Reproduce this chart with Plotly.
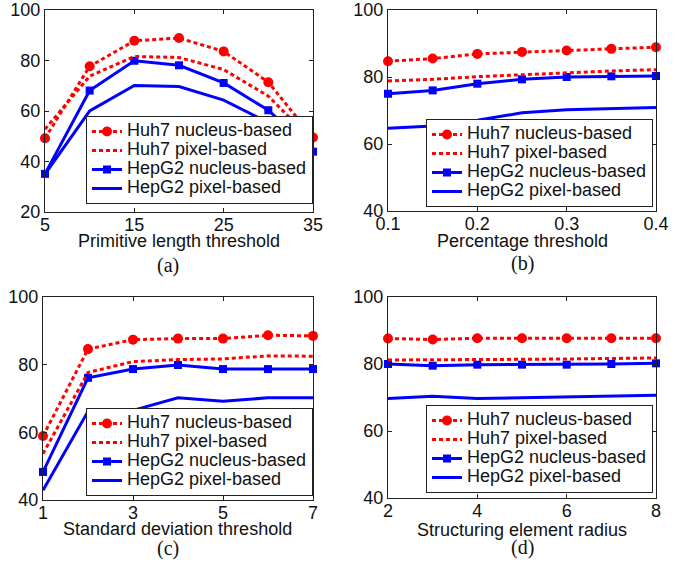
import plotly.graph_objects as go

# ---- data ----
series_names = ["Huh7 nucleus-based", "Huh7 pixel-based", "HepG2 nucleus-based", "HepG2 pixel-based"]

x_a = [5, 10, 15, 20, 25, 30, 35]
huh7_nuc_a = [49.2, 77.7, 87.8, 88.9, 83.6, 71.4, 49.5]
huh7_pix_a = [52.8, 73.8, 81.6, 81.2, 76.4, 65.9, 48.0]
hepg2_nuc_a = [35.1, 68.1, 79.9, 78.1, 71.1, 60.3, 43.9]
hepg2_pix_a = [35.0, 60.0, 70.1, 69.7, 64.3, 55.4, 44.0]

x_b = [0.1, 0.15, 0.2, 0.25, 0.3, 0.35, 0.4]
huh7_nuc_b = [84.7, 85.5, 86.9, 87.5, 87.9, 88.4, 88.9]
huh7_pix_b = [78.8, 79.3, 80.1, 80.7, 81.4, 81.8, 82.2]
hepg2_nuc_b = [75.0, 76.0, 78.0, 79.3, 80.0, 80.2, 80.3]
hepg2_pix_b = [64.7, 65.4, 67.1, 69.3, 70.2, 70.5, 70.9]

x_c = [1, 2, 3, 4, 5, 6, 7]
huh7_nuc_c = [58.9, 84.6, 87.4, 87.7, 87.7, 88.7, 88.5]
huh7_pix_c = [53.7, 77.7, 80.9, 81.5, 81.7, 82.6, 82.5]
hepg2_nuc_c = [48.3, 76.1, 78.7, 79.9, 78.7, 78.7, 78.7]
hepg2_pix_c = [42.9, 66.2, 66.5, 70.2, 69.2, 70.2, 70.2]

x_d = [2, 3, 4, 5, 6, 7, 8]
huh7_nuc_d = [87.6, 87.3, 87.7, 87.7, 87.7, 87.7, 87.7]
huh7_pix_d = [81.2, 81.2, 81.3, 81.4, 81.5, 81.6, 81.8]
hepg2_nuc_d = [80.0, 79.5, 79.8, 79.8, 79.8, 80.0, 80.2]
hepg2_pix_d = [69.7, 70.4, 69.7, 70.0, 70.2, 70.5, 70.7]

x_ticks_a = [5, 15, 25, 35]
x_ticks_b = [0.1, 0.2, 0.3, 0.4]
x_ticks_b_text = ["0.1", "0.2", "0.3", "0.4"]
x_ticks_c = [1, 3, 5, 7]
x_ticks_d = [2, 4, 6, 8]
y_ticks_a = [20, 40, 60, 80, 100]
y_ticks_bcd = [40, 60, 80, 100]

x_titles = ["Primitive length threshold", "Percentage threshold",
            "Standard deviation threshold", "Structuring element radius"]
panel_labels = ["(a)", "(b)", "(c)", "(d)"]

# ---- figure ----
W, H = 687, 569
RED = "#FF0000"
BLUE = "#0000FF"
SANS = "Liberation Sans, Arial, sans-serif"
SERIF = "Liberation Serif, Times New Roman, serif"
TXT = "#111"

panels = [
    (x_a, [huh7_nuc_a, huh7_pix_a, hepg2_nuc_a, hepg2_pix_a]),
    (x_b, [huh7_nuc_b, huh7_pix_b, hepg2_nuc_b, hepg2_pix_b]),
    (x_c, [huh7_nuc_c, huh7_pix_c, hepg2_nuc_c, hepg2_pix_c]),
    (x_d, [huh7_nuc_d, huh7_pix_d, hepg2_nuc_d, hepg2_pix_d]),
]

styles = [
    dict(mode="lines+markers", line=dict(color=RED, width=3, dash="4px,3px"),
         marker=dict(symbol="circle", size=10, color=RED)),
    dict(mode="lines", line=dict(color=RED, width=3, dash="4px,3px")),
    dict(mode="lines+markers", line=dict(color=BLUE, width=3),
         marker=dict(symbol="square", size=8, color=BLUE)),
    dict(mode="lines", line=dict(color=BLUE, width=3)),
]

fig = go.Figure()
legend_ids = ["legend", "legend2", "legend3", "legend4"]
for p, (xs, ys_list) in enumerate(panels):
    sfx = "" if p == 0 else str(p + 1)
    for s in [3, 2, 1, 0]:
        fig.add_trace(go.Scatter(
            x=xs, y=ys_list[s],
            name='<span style="font-size:18px">' + series_names[s] + "</span>",
            xaxis="x" + sfx, yaxis="y" + sfx,
            legend=legend_ids[p], legendrank=s + 1,
            cliponaxis=False, **styles[s]))

# pixel boxes of axes: (left, right, top, bottom)
boxes = [(45, 313, 10, 212), (388, 656, 10, 211), (43, 313, 297, 500), (388, 656, 297, 498)]
xranges = [[5, 35], [0.1, 0.4], [1, 7], [2, 8]]
yranges = [[20, 100], [40, 100], [40, 100], [40, 100]]
xticks = [(x_ticks_a, [str(v) for v in x_ticks_a]), (x_ticks_b, x_ticks_b_text),
          (x_ticks_c, [str(v) for v in x_ticks_c]), (x_ticks_d, [str(v) for v in x_ticks_d])]
yticks = [y_ticks_a, y_ticks_bcd, y_ticks_bcd, y_ticks_bcd]
legend_pos = [(313, 204), (653, 207), (313, 496), (653, 493)]
title_pos = [(179, 241), (522, 241), (178, 529), (522, 530)]
label_pos = [(168, 265), (522, 263), (168, 548), (522, 547)]

axis_common = dict(showline=True, linecolor="#222", linewidth=1, mirror="ticks",
                   ticks="inside", ticklen=4, tickcolor="#222", showgrid=False,
                   zeroline=False, ticklabeloverflow="allow",
                   tickfont=dict(family=SANS, size=18, color=TXT))

layout = dict(width=W, height=H, margin=dict(l=0, r=0, t=0, b=0, autoexpand=False),
              paper_bgcolor="white", plot_bgcolor="white", showlegend=True)
annotations = []
for p in range(4):
    sfx = "" if p == 0 else str(p + 1)
    l, r, t, b = boxes[p]
    layout["xaxis" + sfx] = dict(domain=[l / W, r / W], range=xranges[p],
                                 anchor="y" + sfx, tickvals=xticks[p][0],
                                 ticktext=xticks[p][1], ticklabelstandoff=-4,
                                 **axis_common)
    layout["yaxis" + sfx] = dict(domain=[1 - b / H, 1 - t / H], range=yranges[p],
                                 anchor="x" + sfx, tickvals=yticks[p], **axis_common)
    lx, ly = legend_pos[p]
    layout[legend_ids[p]] = dict(x=lx / W, y=1 - ly / H, xanchor="right", yanchor="bottom",
                                 xref="paper", yref="paper",
                                 bgcolor="white", bordercolor="#222", borderwidth=1,
                                 font=dict(family=SANS, size=12, color=TXT),
                                 tracegroupgap=0, itemwidth=30, traceorder="normal")
    tx, ty = title_pos[p]
    annotations.append(dict(text=x_titles[p], x=tx / W, y=1 - ty / H,
                            xref="paper", yref="paper", showarrow=False,
                            xanchor="center", yanchor="middle",
                            font=dict(family=SANS, size=18, color=TXT)))
    px, py = label_pos[p]
    annotations.append(dict(text=panel_labels[p], x=px / W, y=1 - py / H,
                            xref="paper", yref="paper",
                            showarrow=False, xanchor="center", yanchor="middle",
                            font=dict(family=SERIF, size=20, color=TXT)))
layout["annotations"] = annotations
fig.update_layout(**layout)

fig.write_html("out.html", config={"displayModeBar": False},
               post_script="document.body.style.margin='0';document.body.style.overflow='hidden';")
